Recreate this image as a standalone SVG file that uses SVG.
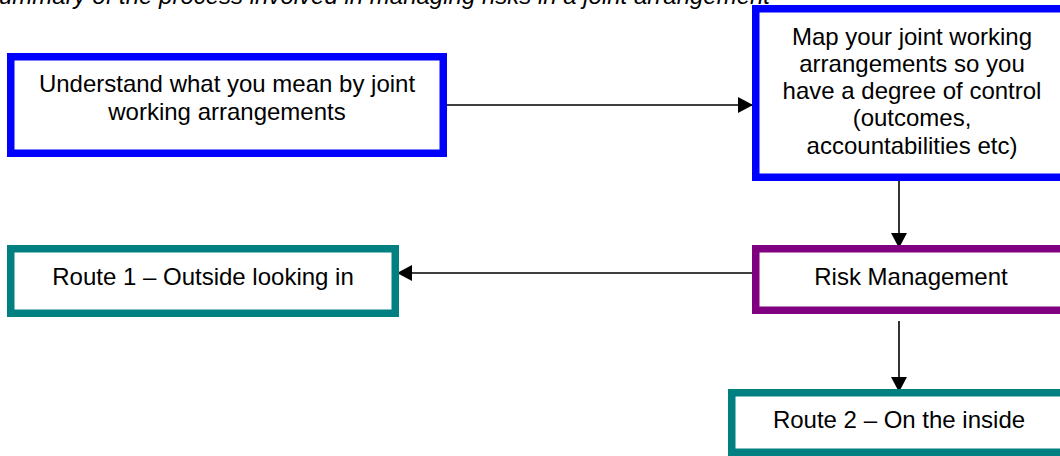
<svg xmlns="http://www.w3.org/2000/svg" width="1060" height="456" viewBox="0 0 1060 456">
  <style>
    .box { fill: #ffffff; stroke-width: 7.5; }
    .blue { stroke: #0000ff; }
    .purple { stroke: #800080; }
    .teal { stroke: #008080; }
    .label { font-family: "Liberation Sans", Arial, sans-serif; font-size: 24px; fill: #000000; text-anchor: middle; }
    .title { font-family: "Liberation Sans", Arial, sans-serif; font-size: 24px; font-style: italic; fill: #000000; }
    .conn { stroke: #000000; stroke-width: 1.6; fill: none; }
  </style>
  <defs>
    <marker id="arrow" markerUnits="userSpaceOnUse" markerWidth="15" markerHeight="16" refX="15" refY="8" orient="auto">
      <path d="M0,0 L15,8 L0,16 z" fill="#000000"/>
    </marker>
  </defs>

  <rect width="1060" height="456" fill="#ffffff"/>

  <g id="connectors">
    <line class="conn" x1="447" y1="105" x2="753" y2="105" marker-end="url(#arrow)"/>
    <line class="conn" x1="899" y1="181" x2="899" y2="248" marker-end="url(#arrow)"/>
    <line class="conn" x1="752" y1="273" x2="397" y2="273" marker-end="url(#arrow)"/>
    <line class="conn" x1="899" y1="321" x2="899" y2="392" marker-end="url(#arrow)"/>
  </g>

  <g id="understand">
    <rect class="box blue" x="10.75" y="56.75" width="432.5" height="96.5"/>
    <text class="label" x="227" y="92">Understand what you mean by joint</text>
    <text class="label" x="227" y="120">working arrangements</text>
  </g>

  <g id="map">
    <rect class="box blue" x="755.75" y="8.75" width="312.5" height="168.5"/>
    <text class="label" x="912" y="44.5">Map your joint working</text>
    <text class="label" x="912" y="71.8">arrangements so you</text>
    <text class="label" x="912" y="99.1">have a degree of control</text>
    <text class="label" x="912" y="126.4">(outcomes,</text>
    <text class="label" x="912" y="153.7">accountabilities etc)</text>
  </g>

  <g id="risk">
    <rect class="box purple" x="755.75" y="248.75" width="310.5" height="61.5"/>
    <text class="label" x="911" y="285">Risk Management</text>
  </g>

  <g id="route1">
    <rect class="box teal" x="10.75" y="248.75" width="384.5" height="64.5"/>
    <text class="label" x="203" y="285">Route 1 – Outside looking in</text>
  </g>

  <g id="route2">
    <rect class="box teal" x="731.75" y="392.75" width="334.5" height="59.5"/>
    <text class="label" x="899" y="428">Route 2 – On the inside</text>
  </g>

  <!-- caption runs along the top edge, partly above the page -->
  <text class="title" x="-1" y="4">ummary of the process involved in managing risks in a joint arrangement</text>
</svg>
